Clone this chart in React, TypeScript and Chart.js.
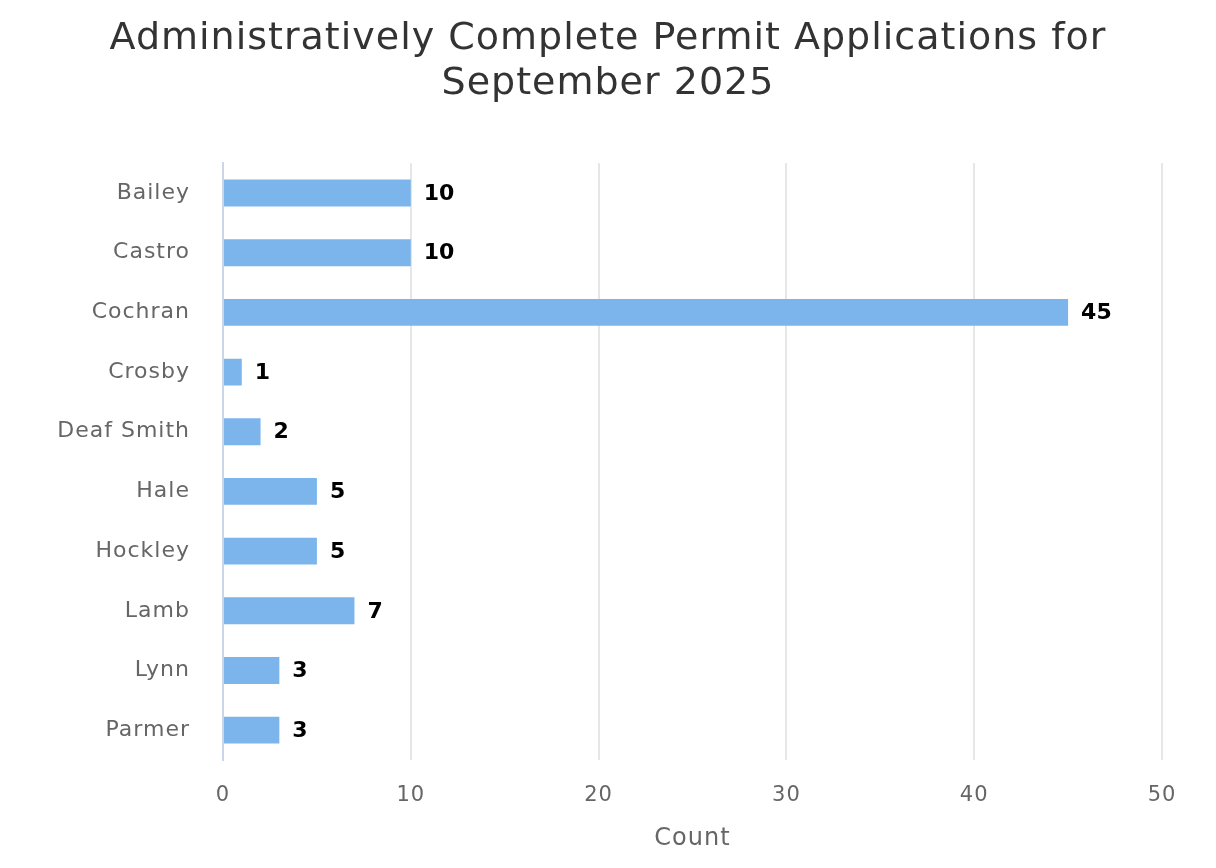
import React, { useEffect, useRef } from "react";
import { Chart, registerables } from "chart.js";

Chart.register(...registerables);

const titleLines = ["Administratively Complete Permit Applications for", "September 2025"];
const counties = ["Bailey", "Castro", "Cochran", "Crosby", "Deaf Smith", "Hale", "Hockley", "Lamb", "Lynn", "Parmer"];
const counts = [10, 10, 45, 1, 2, 5, 5, 7, 3, 3];
const xTicks = [0, 10, 20, 30, 40, 50];
const xTitle = "Count";

const FONT = "'DejaVu Sans', sans-serif";

const spacingPlugin = {
  id: "letterSpacing",
  beforeUpdate(chart: any) {
    chart.ctx.letterSpacing = "1px";
  },
  beforeDraw(chart: any) {
    chart.ctx.letterSpacing = "1px";
  },
};

const dataLabelPlugin = {
  id: "dataLabels",
  afterDatasetsDraw(chart: any) {
    const ctx = chart.ctx;
    const meta = chart.getDatasetMeta(0);
    ctx.save();
    ctx.letterSpacing = "0px";
    ctx.font = `bold 22px ${FONT}`;
    ctx.fillStyle = "#000000";
    ctx.textAlign = "left";
    ctx.textBaseline = "middle";
    meta.data.forEach((bar: any, i: number) => {
      ctx.fillText(String(counts[i]), bar.x + 13, bar.y + 1);
    });
    ctx.restore();
  },
};

export default function App() {
  const ref = useRef<HTMLCanvasElement | null>(null);
  useEffect(() => {
    if (!ref.current) return;
    const chart = new Chart(ref.current, {
      type: "bar",
      data: {
        labels: counties,
        datasets: [
          {
            data: counts,
            backgroundColor: "#7cb5ec",
            borderWidth: 0,
            barPercentage: 0.9,
            categoryPercentage: 0.5,
          },
        ],
      },
      options: {
        indexAxis: "y",
        animation: false,
        responsive: false,
        layout: { padding: { left: 0, right: 0, top: 0, bottom: 0 } },
        plugins: {
          legend: { display: false },
          tooltip: { enabled: false },
          title: {
            display: true,
            text: titleLines,
            color: "#333333",
            font: { family: FONT, size: 38, weight: "normal", lineHeight: 1.2 },
            padding: { top: 16, bottom: 56 },
          },
        },
        scales: {
          x: {
            min: 0,
            max: 50,
            afterBuildTicks: (scale: any) => {
              scale.ticks = xTicks.map((v) => ({ value: v }));
            },
            afterFit: (scale: any) => {
              scale.height = 108;
            },
            grid: { color: "#e6e6e6", lineWidth: 2, drawTicks: false },
            border: { display: false },
            ticks: {
              color: "#666666",
              padding: 23,
              font: { family: FONT, size: 21 },
            },
            title: {
              display: true,
              text: xTitle,
              color: "#666666",
              font: { family: FONT, size: 24 },
              padding: { top: 4, bottom: 15 },
            },
          },
          y: {
            afterFit: (scale: any) => {
              scale.width = 223;
            },
            grid: { display: false, drawTicks: false },
            border: { display: true, color: "#ccd6eb", width: 2 },
            ticks: {
              color: "#666666",
              padding: 33,
              font: { family: FONT, size: 22 },
            },
          },
          pad: {
            axis: "y",
            position: "right",
            display: true,
            afterFit: (scale: any) => {
              scale.width = 54;
            },
            grid: { display: false, drawTicks: false },
            border: { display: false },
            ticks: { display: false },
          },
        },
      },
      plugins: [spacingPlugin, dataLabelPlugin],
    });
    return () => chart.destroy();
  }, []);
  return (
    <div style={{ position: "fixed", left: 0, top: 0, width: 1216, height: 868, background: "#ffffff" }}>
      <canvas ref={ref} width={1216} height={868} />
    </div>
  );
}
